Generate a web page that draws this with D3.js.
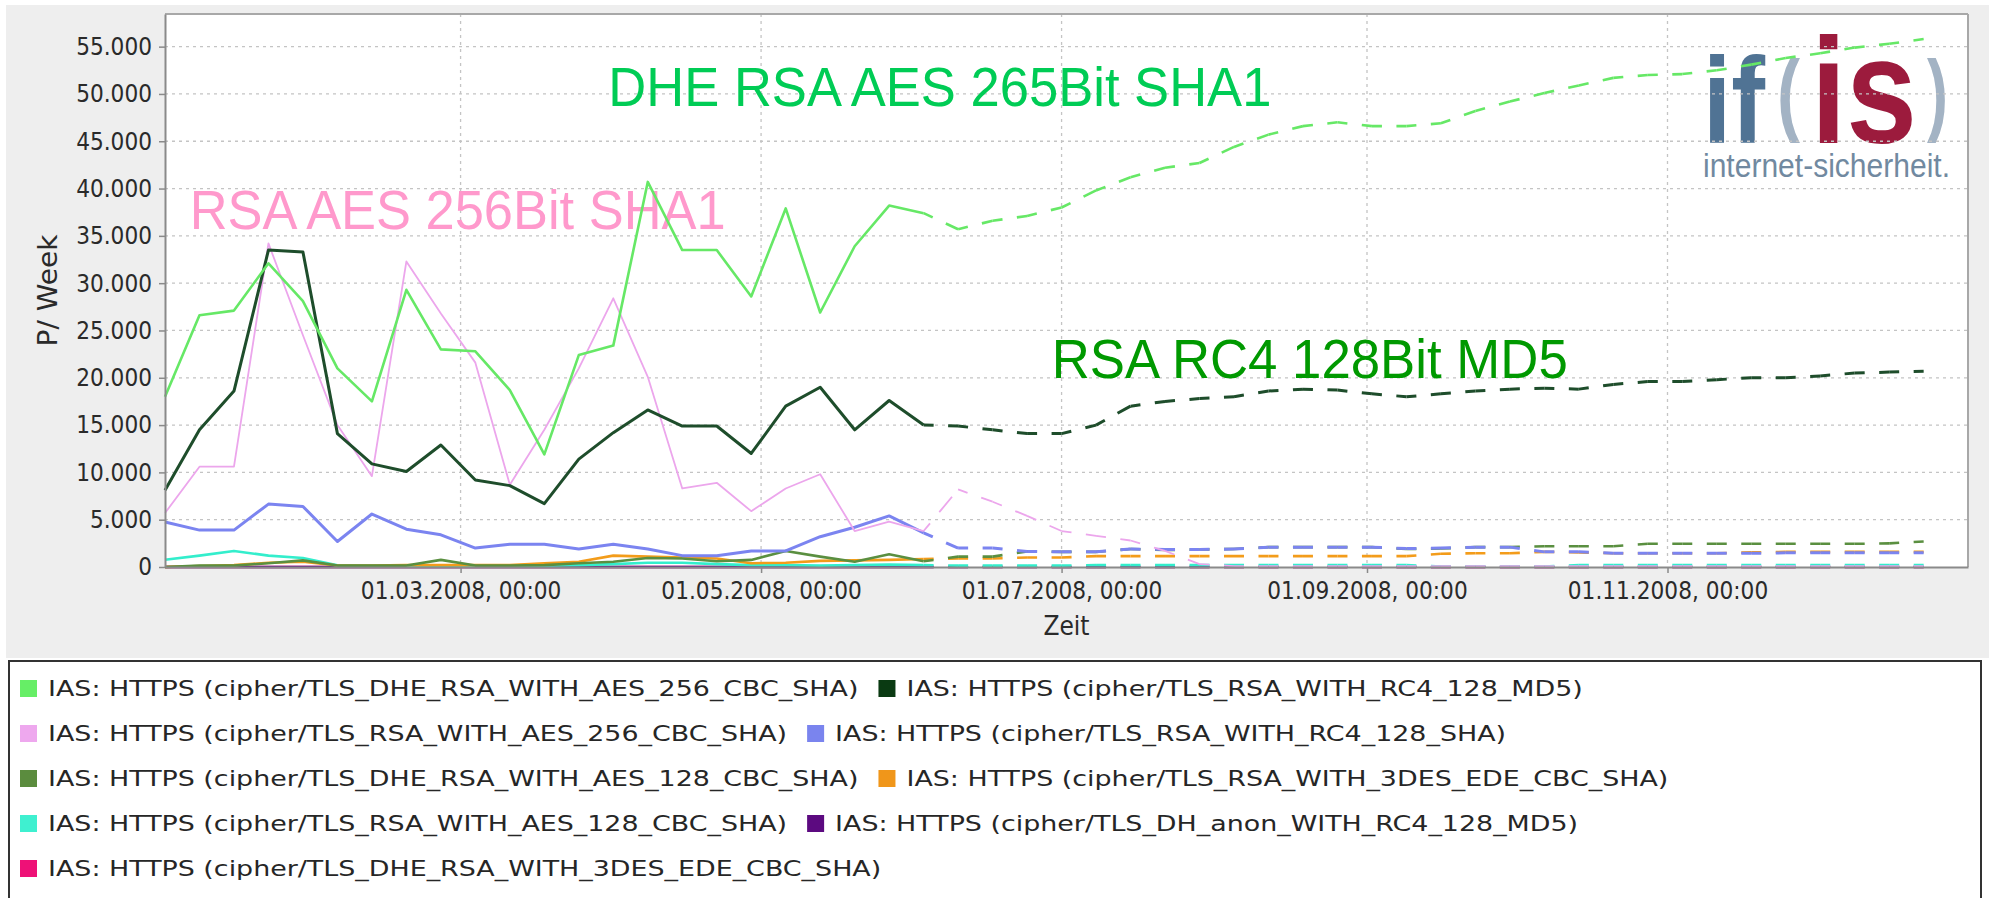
<!DOCTYPE html>
<html><head><meta charset="utf-8">
<script src="https://cdn.jsdelivr.net/npm/d3@7"></script>
<style>body{margin:0;background:#fff;} svg{display:block;}</style>
</head><body>
<svg id="c" width="1989" height="898"></svg>
<script>
// ---------------- DATA ----------------
const dates = ["2008-01-01","2008-01-08","2008-01-15","2008-01-22","2008-01-29","2008-02-05","2008-02-12","2008-02-19","2008-02-26","2008-03-04","2008-03-11","2008-03-18","2008-03-25","2008-04-01","2008-04-08","2008-04-15","2008-04-22","2008-04-29","2008-05-06","2008-05-13","2008-05-20","2008-05-27","2008-06-03","2008-06-10","2008-06-17","2008-06-24","2008-07-01","2008-07-08","2008-07-15","2008-07-22","2008-07-29","2008-08-05","2008-08-12","2008-08-19","2008-08-26","2008-09-02","2008-09-09","2008-09-16","2008-09-23","2008-09-30","2008-10-07","2008-10-14","2008-10-21","2008-10-28","2008-11-04","2008-11-11","2008-11-18","2008-11-25","2008-12-02","2008-12-09","2008-12-16","2008-12-23"];
const forecastFrom = "2008-06-03";
const xDomain = ["2008-01-01","2009-01-01"];
const yMax = 58450;

const dheAes256 = [18000,26600,27100,32100,28100,21000,17500,29300,23000,22800,18700,11900,22400,23400,40700,33500,33500,28600,37900,26900,33900,38200,37400,35700,36600,37100,38000,39800,41200,42200,42700,44400,45700,46600,47000,46600,46600,46900,48200,49200,50100,50900,51700,52000,52100,52500,53100,53800,54300,54900,55300,55800];
const rsaRc4Md5 = [8100,14500,18600,33500,33300,14100,10900,10100,12900,9200,8600,6700,11400,14200,16600,14900,14900,12000,17000,19000,14500,17600,15000,14900,14500,14100,14100,15000,17000,17500,17800,18000,18600,18800,18700,18300,18000,18300,18600,18800,18900,18800,19300,19600,19600,19800,20000,20000,20200,20500,20600,20700];
const rsaAes256 = [5700,10600,10600,34200,24500,15000,9600,32300,26800,21600,8700,14500,21000,28400,20100,8300,8900,5900,8300,9800,3800,4800,3800,8200,6900,5400,3800,3300,2800,1700,300,100,100,100,100,100,100,100,100,100,100,100,100,100,100,100,100,100,100,100,100,100];
const rsaRc4Sha = [4750,3900,3900,6650,6400,2700,5600,4000,3400,2000,2400,2400,1900,2400,1900,1200,1200,1700,1700,3200,4200,5400,3600,2000,2000,1650,1600,1600,1900,1850,1850,1900,2100,2100,2100,2100,1950,2000,2100,2100,1600,1600,1450,1450,1450,1450,1450,1500,1500,1500,1500,1500];
const dheAes128 = [0,150,150,400,700,150,150,150,750,150,150,200,400,550,950,900,600,750,1700,1100,550,1350,600,1100,1100,1650,1600,1600,1900,1800,1850,1900,2100,2100,2100,2100,1900,1950,2100,2100,2200,2200,2200,2450,2450,2450,2450,2450,2450,2450,2500,2700];
const rsa3Des = [0,100,200,450,550,150,150,200,200,200,200,400,550,1200,1100,1000,900,400,450,650,700,750,850,900,900,1000,1000,1150,1150,1150,1150,1150,1150,1150,1150,1150,1150,1400,1450,1450,1600,1550,1450,1450,1450,1450,1550,1600,1600,1600,1600,1600];
const rsaAes128 = [770,1200,1700,1200,950,170,100,100,100,100,100,150,200,300,450,450,300,200,200,150,200,250,200,150,150,150,150,200,200,200,200,200,200,200,200,200,200,50,50,50,50,200,200,200,200,200,200,200,200,200,200,200];
const dhAnonRc4Md5 = [0,0,0,0,0,0,0,0,0,0,0,0,0,0,0,0,0,0,0,0,0,0,0,0,0,0,0,0,0,0,0,0,0,0,0,0,0,0,0,0,0,0,0,0,0,0,0,0,0,0,0,0];
const dheRsa3Des = [0,0,0,0,0,0,0,0,0,0,0,0,0,0,0,0,0,0,0,0,0,0,0,0,0,0,0,0,0,0,0,0,0,0,0,0,0,0,0,0,0,0,0,0,0,0,0,0,0,0,0,0];

const seriesNames = [
  "IAS: HTTPS (cipher/TLS_DHE_RSA_WITH_AES_256_CBC_SHA)",
  "IAS: HTTPS (cipher/TLS_RSA_WITH_RC4_128_MD5)",
  "IAS: HTTPS (cipher/TLS_RSA_WITH_AES_256_CBC_SHA)",
  "IAS: HTTPS (cipher/TLS_RSA_WITH_RC4_128_SHA)",
  "IAS: HTTPS (cipher/TLS_DHE_RSA_WITH_AES_128_CBC_SHA)",
  "IAS: HTTPS (cipher/TLS_RSA_WITH_3DES_EDE_CBC_SHA)",
  "IAS: HTTPS (cipher/TLS_RSA_WITH_AES_128_CBC_SHA)",
  "IAS: HTTPS (cipher/TLS_DH_anon_WITH_RC4_128_MD5)",
  "IAS: HTTPS (cipher/TLS_DHE_RSA_WITH_3DES_EDE_CBC_SHA)"
];
const seriesValues = [dheAes256, rsaRc4Md5, rsaAes256, rsaRc4Sha, dheAes128, rsa3Des, rsaAes128, dhAnonRc4Md5, dheRsa3Des];

const yTicks = [0,5000,10000,15000,20000,25000,30000,35000,40000,45000,50000,55000];
const yTickLabels = ["0","5.000","10.000","15.000","20.000","25.000","30.000","35.000","40.000","45.000","50.000","55.000"];
const xTicks = ["2008-03-01","2008-05-01","2008-07-01","2008-09-01","2008-11-01"];
const xTickLabels = ["01.03.2008, 00:00","01.05.2008, 00:00","01.07.2008, 00:00","01.09.2008, 00:00","01.11.2008, 00:00"];
const xTitle = "Zeit";
const yTitle = "P/ Week";
const annotations = [
  {text:"DHE RSA AES 265Bit SHA1", date:"2008-03-31", value:48700},
  {text:"RSA AES 256Bit SHA1", date:"2008-01-06", value:35700},
  {text:"RSA RC4 128Bit MD5", date:"2008-06-29", value:20000}
];

// ---------------- STYLES ----------------
const colors = ["#66e866","#1e4d2b","#eca6ec","#7b84f0","#5a8f40","#f39c1a","#33eecc","#5c0a80","#ef1a74"];
const swatchColors = ["#66ee66","#0a3a12","#eea8ee","#7a84ee","#5b8c3e","#f0961a","#3ff0d0","#5c0a80","#ee1177"];
const widths = [2.6,3,1.8,3,2.6,2.6,2.6,2.4,2.4];
const annColors = ["#00cc55","#ff99cc","#009900"];
const annWidths = [663,536,516];

const svg = d3.select("#c");
const W = 1989, H = 898;
const X0 = 165, X1 = 1968, Y0 = 567, Y1 = 14;
const parse = d3.utcParse("%Y-%m-%d");
const x = d3.scaleUtc().domain(xDomain.map(parse)).range([X0, X1]);
const y = d3.scaleLinear().domain([0, yMax]).range([Y0, Y1]);

function fit(sel, w){ sel.attr("textLength", w).attr("lengthAdjust","spacingAndGlyphs"); }
function squeeze(sel, f){ sel.each(function(){ const n=this.getComputedTextLength(); d3.select(this).attr("textLength", n*f).attr("lengthAdjust","spacingAndGlyphs"); }); }

svg.append("rect").attr("width",W).attr("height",H).attr("fill","#fff");
svg.append("rect").attr("x",6).attr("y",5).attr("width",W-6).attr("height",653).attr("fill","#eeeeee");
svg.append("rect").attr("x",X0).attr("y",Y1).attr("width",X1-X0).attr("height",Y0-Y1).attr("fill","#fff");

// ---------------- LOGO (background image in plot, one text element) ----------------
const logo = svg.append("text").attr("font-family","Liberation Sans, Arial, sans-serif").attr("font-weight","bold");
logo.append("tspan").attr("x",1703).attr("y",143).attr("font-size",122).attr("fill","#507394").text("if").call(fit,62);
logo.append("tspan").attr("x",1777).attr("y",124).attr("font-size",90).attr("fill","#a3b3c4").text("(").call(fit,23);
logo.append("tspan").attr("x",1811).attr("y",143).attr("font-size",150).attr("fill","#9c1b3d").text("is").call(fit,106);
logo.append("tspan").attr("x",1927).attr("y",124).attr("font-size",90).attr("fill","#a3b3c4").text(")").call(fit,21);
logo.append("tspan").attr("x",1703).attr("y",177).attr("font-size",34).attr("font-weight","normal").attr("fill","#7189a0").text("internet-sicherheit.").call(fit,247);

// ---------------- GRID ----------------
const grid = svg.append("g").attr("stroke","#c4c4c4").attr("stroke-width",1.3).attr("stroke-dasharray","3,4");
grid.selectAll("line.h").data(yTicks.filter(d=>d>0)).join("line")
  .attr("x1",X0).attr("x2",X1).attr("y1",d=>y(d)).attr("y2",d=>y(d));
grid.selectAll("line.v").data(xTicks).join("line")
  .attr("y1",Y1).attr("y2",Y0).attr("x1",d=>x(parse(d))).attr("x2",d=>x(parse(d)));

// ---------------- ANNOTATIONS ----------------
const ann = svg.append("g").attr("font-family","Liberation Sans, Arial, sans-serif").attr("font-size",55);
annotations.forEach((a,i)=>{
  ann.append("text").attr("x",x(parse(a.date))).attr("y",y(a.value)).attr("fill",annColors[i]).text(a.text).call(fit,annWidths[i]);
});

// ---------------- SERIES ----------------
const line = d3.line().x(d=>x(d.t)).y(d=>y(d.v));
const fi = dates.indexOf(forecastFrom);
const sg = svg.append("g").attr("fill","none").attr("stroke-linejoin","round");
for (let s = seriesValues.length-1; s >= 0; s--) {
  const pts = dates.map((d,i)=>({t:parse(d), v:seriesValues[s][i]}));
  const g = sg.append("g").attr("stroke",colors[s]).attr("stroke-width",widths[s]);
  g.append("path").datum(pts.slice(0, fi+1)).attr("d", line);
  for (let i = fi; i < pts.length-1; i++) {
    g.append("path").datum([pts[i], pts[i+1]]).attr("d", line)
      .attr("stroke-dasharray","20,14.5").attr("stroke-dashoffset",10);
  }
}

// ---------------- FRAME & AXES ----------------
svg.append("line").attr("x1",X0).attr("x2",X1).attr("y1",Y1).attr("y2",Y1).attr("stroke","#a8a8a8").attr("stroke-width",2);
svg.append("line").attr("x1",X1).attr("x2",X1).attr("y1",Y1).attr("y2",Y0).attr("stroke","#a8a8a8").attr("stroke-width",2);

const yAxis = svg.append("g").attr("transform",`translate(${X0},0)`)
  .call(d3.axisLeft(y).tickValues(yTicks).tickFormat((d,i)=>yTickLabels[i]).tickSize(6).tickSizeOuter(0).tickPadding(7));
const xAxis = svg.append("g").attr("transform",`translate(0,${Y0})`)
  .call(d3.axisBottom(x).tickValues(xTicks.map(parse)).tickFormat((d,i)=>xTickLabels[i]).tickSize(6).tickSizeOuter(0).tickPadding(9));
[yAxis, xAxis].forEach(a=>{
  a.select(".domain").attr("stroke","#8a8a8a").attr("stroke-width",2);
  a.selectAll(".tick line").attr("stroke","#8a8a8a").attr("stroke-width",1.5);
  a.selectAll("text").attr("font-family","DejaVu Sans, sans-serif").attr("font-size",24.5).attr("fill","#2a2a2a").call(squeeze,0.885);
});

svg.append("text").attr("x",(X0+X1)/2).attr("y",635).attr("text-anchor","middle")
  .attr("font-family","DejaVu Sans, sans-serif").attr("font-size",26).attr("fill","#2a2a2a").text(xTitle).call(squeeze,0.9);
svg.append("text").attr("transform",`translate(57,${(Y0+Y1)/2}) rotate(-90)`).attr("text-anchor","middle")
  .attr("font-family","DejaVu Sans, sans-serif").attr("font-size",26).attr("fill","#2a2a2a").text(yTitle).call(fit,112);

// ---------------- LEGEND ----------------
svg.append("rect").attr("x",9).attr("y",661).attr("width",1972).attr("height",240)
  .attr("fill","#fff").attr("stroke","#333").attr("stroke-width",2);
const lg = svg.append("g").attr("font-family","DejaVu Sans, sans-serif").attr("font-size",21).attr("fill","#262626");
let lx = 20, row = 0;
const rowY = r => 696 + r*45;
seriesNames.forEach((name,i)=>{
  const t = lg.append("text").text(name);
  const natural = t.node().getComputedTextLength();
  const tw = natural*1.28;
  if (lx + 28 + tw > 1975) { row++; lx = 20; }
  lg.append("rect").attr("x",lx).attr("y",rowY(row)-16).attr("width",17).attr("height",17).attr("fill",swatchColors[i]);
  t.attr("x",lx+28).attr("y",rowY(row)).call(fit,tw);
  lx = lx + 28 + tw + 20;
});
</script>
</body></html>
